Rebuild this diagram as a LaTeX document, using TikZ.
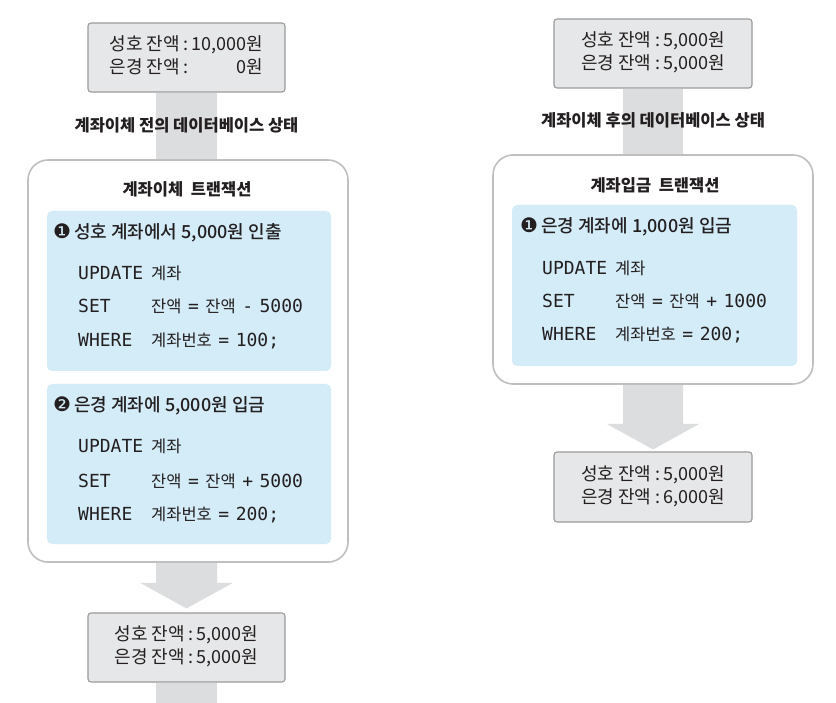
\documentclass[tikz,border=0pt]{standalone}
\usepackage{fontspec}
\setmainfont{Noto Sans CJK KR}
\newfontfamily\medfont[UprightFont=* Medium,BoldFont=* Bold]{Noto Sans CJK KR}
\newfontfamily\codefont[WordSpace=0.6]{DejaVu Sans Mono}
\newfontfamily\krfont{Noto Sans CJK KR}
\newfontfamily\dingfont{DejaVu Sans}
\usetikzlibrary{calc,backgrounds}
\definecolor{ink}{HTML}{231F20}
\definecolor{valfill}{HTML}{E6E7E8}
\definecolor{valline}{HTML}{9B9B9B}
\definecolor{stemcol}{HTML}{DCDDDE}
\definecolor{transline}{HTML}{BFBFBF}
\definecolor{stepfill}{HTML}{D3ECF8}
\newcommand\kc[1]{{\krfont\fontsize{16.5}{16.5}\selectfont #1}}
\newcommand\numc[1]{{\dingfont\fontsize{20}{20}\selectfont #1}}
\newcommand\valtab[4]{\begin{tabular}{@{}l@{\hspace{4pt}:\hspace{3pt}}r@{}}#1 & #2\\ #3 & #4\end{tabular}}
\tikzset{
  valbox/.style={draw=valline, line width=1.1pt, fill=valfill, rounded corners=3pt,
    minimum width=197pt, minimum height=69pt, inner sep=0pt, text=ink,
    font=\fontsize{18}{23}\selectfont},
  transbox/.style={draw=transline, line width=1.6pt, fill=white, rounded corners=20pt,
    minimum width=320pt, inner sep=0pt},
  stepbox/.style={fill=stepfill, rounded corners=5pt, minimum width=284pt, minimum height=160pt, inner sep=0pt},
  lbl/.style={anchor=base, inner sep=0pt, text=ink, font=\fontsize{16.5}{16.5}\selectfont\bfseries},
  ttl/.style={anchor=base, inner sep=0pt, text=ink, font=\fontsize{16.5}{16.5}\selectfont\bfseries},
  hdr/.style={anchor=base west, inner sep=0pt, text=ink, font=\medfont\fontsize{18}{18}\selectfont},
  kw/.style={anchor=base west, inner sep=0pt, text=ink, font=\codefont\fontsize{18}{18}\selectfont},
}
\begin{document}
\begin{tikzpicture}[x=1pt,y=-1pt]
\useasboundingbox (0,0) rectangle (836,703);

% ---------- left column ----------
\node[valbox] (top1) at (186.5,57.5) {\valtab{성호 잔액}{10,000원}{은경 잔액}{0원}};
\node[transbox, minimum height=402pt] (trans1) at (188,361) {};
\node[lbl] (lab1) at (186.5,132) {계좌이체 전의 데이터베이스 상태};
\node[ttl] (ttl1) at (187,196) {계좌이체\ \ 트랜잭션};
\node[stepbox] (blue1) at (189,291) {};
\node[stepbox] (blue2) at (189,464) {};
\node[hdr] (h1) at (53,239) {\numc{❶}\,성호 계좌에서 5,000원 인출};
\node[kw] (u1) at (78,280) {UPDATE};
\node[kw] (u1b) at (151,280) {\kc{계좌}};
\node[kw] (s1) at (78,313) {SET};
\node[kw] (s1b) at (151,313) {\kc{잔액} = \kc{잔액} - 5000};
\node[kw] (w1) at (78,347) {WHERE};
\node[kw] (w1b) at (151,347) {\kc{계좌번호} = 100;};
\node[hdr] (h2) at (53,412) {\numc{❷}\,은경 계좌에 5,000원 입금};
\node[kw] (u2) at (78,453) {UPDATE};
\node[kw] (u2b) at (151,453) {\kc{계좌}};
\node[kw] (s2) at (78,487) {SET};
\node[kw] (s2b) at (151,487) {\kc{잔액} = \kc{잔액} + 5000};
\node[kw] (w2) at (78,520) {WHERE};
\node[kw] (w2b) at (151,520) {\kc{계좌번호} = 200;};
\node[valbox] (bot1) at (186.5,647.5) {\valtab{성호 잔액}{5,000원}{은경 잔액}{5,000원}};
\coordinate (edge1) at (186.5,703);

% ---------- right column ----------
\node[valbox, minimum width=198pt] (top2) at (653,53.5) {\valtab{성호 잔액}{5,000원}{은경 잔액}{5,000원}};
\node[transbox, minimum height=229pt] (trans2) at (653,269.5) {};
\node[lbl] (lab2) at (653,127) {계좌이체 후의 데이터베이스 상태};
\node[ttl] (ttl2) at (655,192) {계좌입금\ \ 트랜잭션};
\node[stepbox, minimum width=285pt, minimum height=161pt] (blue3) at (654.5,285.5) {};
\node[hdr] (h3) at (520,233) {\numc{❶}\,은경 계좌에 1,000원 입금};
\node[kw] (u3) at (542,275) {UPDATE};
\node[kw] (u3b) at (615,275) {\kc{계좌}};
\node[kw] (s3) at (542,308) {SET};
\node[kw] (s3b) at (615,308) {\kc{잔액} = \kc{잔액} + 1000};
\node[kw] (w3) at (542,341) {WHERE};
\node[kw] (w3b) at (615,341) {\kc{계좌번호} = 200;};
\node[valbox, minimum width=198pt, minimum height=70pt] (bot2) at (653,487) {\valtab{성호 잔액}{5,000원}{은경 잔액}{6,000원}};

% ---------- connectors (behind) ----------
\begin{pgfonlayer}{background}
\fill[white] (0,0) rectangle (836,703);
\fill[stemcol] ($(top1.south)+(-30.5,0)$) rectangle ($(top1.south |- trans1.north)+(30.5,2)$);
\fill[stemcol] ($(top1.south |- trans1.south)+(-30.5,-2)$) -- ++(0,22) -- ++(-16,0)
   -- ($(bot1.north)+(0,-4)$) -- ($(top1.south |- trans1.south)+(46.5,20)$) -- ++(-16,0) -- ++(0,-22) -- cycle;
\fill[stemcol] ($(bot1.south)+(-30.5,0)$) rectangle ($(edge1)+(30.5,0)$);
\fill[stemcol] ($(top2.south)+(-30,0)$) rectangle ($(top2.south |- trans2.north)+(30,2)$);
\fill[stemcol] ($(trans2.south)+(-30,-2)$) -- ++(0,41) -- ++(-16.5,0)
   -- ($(bot2.north)+(0,-2)$) -- ($(trans2.south)+(46.5,39)$) -- ++(-16.5,0) -- ++(0,-41) -- cycle;
\end{pgfonlayer}
\end{tikzpicture}
\end{document}
